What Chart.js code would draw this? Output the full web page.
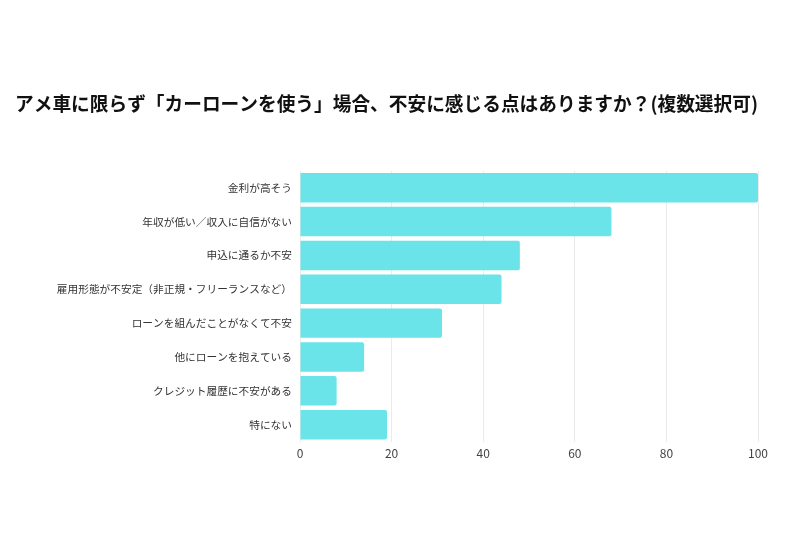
<!DOCTYPE html>
<html>
<head>
<meta charset="utf-8">
<script src="https://cdn.jsdelivr.net/npm/chart.js@4/dist/chart.umd.min.js"></script>
<style>
  html, body { margin: 0; padding: 0; background: #fff; }
  #wrap { width: 800px; height: 533px; }
</style>
</head>
<body>
<div id="wrap"><canvas id="chart" width="800" height="533"></canvas></div>
<script>
// Data
const titleText = 'アメ車に限らず「カーローンを使う」場合、不安に感じる点はありますか？(複数選択可)';
const categories = [
    '金利が高そう',
    '年収が低い／収入に自信がない',
    '申込に通るか不安',
    '雇用形態が不安定（非正規・フリーランスなど）',
    'ローンを組んだことがなくて不安',
    '他にローンを抱えている',
    'クレジット履歴に不安がある',
    '特にない'
];
const values = [100, 68, 48, 44, 31, 14, 8, 19];
const xTicks = [0, 20, 40, 60, 80, 100];

const fontFamily = '"Noto Sans CJK JP", "Noto Sans", sans-serif';

const ctx = document.getElementById('chart').getContext('2d');
new Chart(ctx, {
    type: 'bar',
    data: {
        labels: categories,
        datasets: [{
            data: values,
            backgroundColor: '#6ae4e8',
            borderRadius: 2,
            borderSkipped: 'start',
            categoryPercentage: 1,
            barPercentage: 0.87
        }]
    },
    options: {
        indexAxis: 'y',
        responsive: false,
        animation: false,
        layout: {
            padding: { top: 80, left: 15, right: 42, bottom: 67 }
        },
        plugins: {
            legend: { display: false },
            tooltip: { enabled: false },
            title: {
                display: true,
                text: titleText,
                align: 'start',
                color: '#111',
                font: { family: fontFamily, size: 19, weight: 'bold' },
                padding: { top: 12, bottom: 56 }
            }
        },
        scales: {
            x: {
                min: 0,
                max: 100,
                afterBuildTicks: scale => {
                    scale.ticks = xTicks.map(v => ({ value: v }));
                },
                grid: { color: '#ebebeb', drawTicks: false },
                border: { display: false },
                ticks: {
                    color: '#444',
                    padding: 5,
                    font: { family: fontFamily, size: 12 }
                }
            },
            y: {
                grid: { display: false, drawTicks: false },
                border: { display: false },
                afterFit: scale => { scale.width = 285; },
                ticks: {
                    color: '#333',
                    padding: 8,
                    autoSkip: false,
                    font: { family: fontFamily, size: 10.7 }
                }
            }
        }
    }
});
</script>
</body>
</html>
